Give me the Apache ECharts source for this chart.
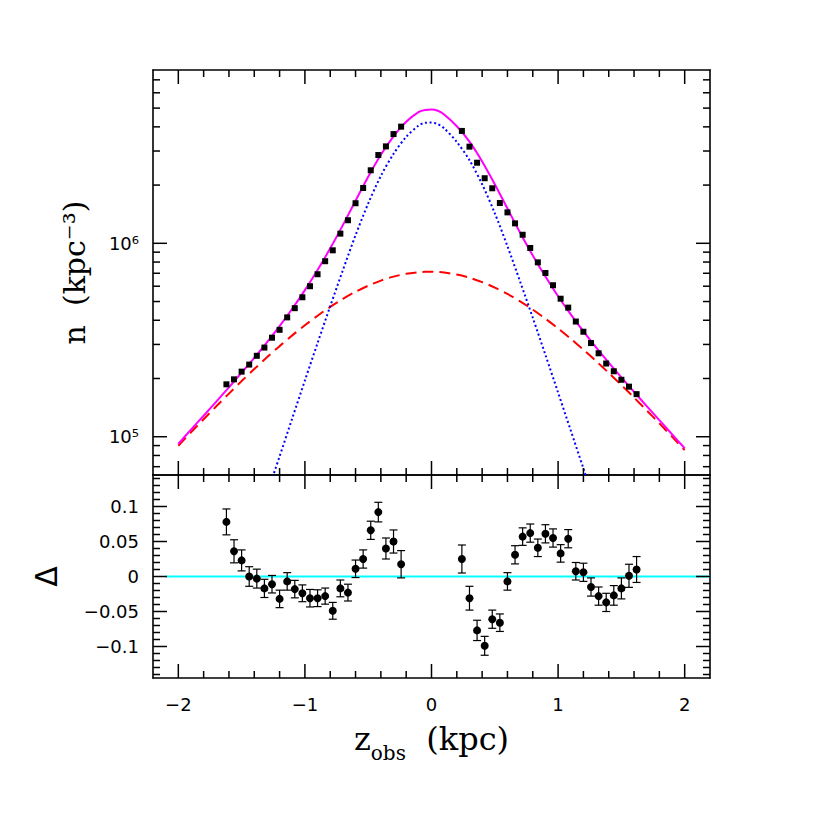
<!DOCTYPE html>
<html><head><meta charset="utf-8">
<script src="https://cdn.jsdelivr.net/npm/echarts@6/dist/echarts.min.js"></script>
<style>html,body{margin:0;padding:0;background:#fff}#c{width:830px;height:830px}</style>
</head><body><div id="c"></div>
<script>
// ---- model curves ----
const curveZ = [-2.0,-1.9,-1.8,-1.7,-1.6,-1.5,-1.4,-1.3,-1.2,-1.1,-1.0,-0.9,-0.8,-0.7,-0.6,-0.5,-0.4,-0.3,-0.2,-0.1,-0.05,0.0,0.05,
                0.1,0.2,0.3,0.4,0.5,0.6,0.7,0.8,0.9,1.0,1.1,1.2,1.3,1.4,1.5,1.6,1.7,1.8,1.9,2.0];
const thinDisk = [2.1e3,3.4e3,5.3e3,8.3e3,1.30e4,2.04e4,3.21e4,5.05e4,7.91e4,1.245e5,1.954e5,3.05e5,4.73e5,7.26e5,1.10e6,1.607e6,2.23e6,2.90e6,3.55e6,4.07e6,4.195e6,4.21e6,4.13e6,
                  3.93e6,3.34e6,2.69e6,2.02e6,1.43e6,9.66e5,6.34e5,4.12e5,2.65e5,1.69e5,1.077e5,6.85e4,4.37e4,2.78e4,1.77e4,1.13e4,7.2e3,4.6e3,2.9e3,1.9e3];
const thickDisk = [8.98e4,1.054e5,1.231e5,1.437e5,1.671e5,1.939e5,2.237e5,2.574e5,2.940e5,3.341e5,3.771e5,4.224e5,4.691e5,5.156e5,5.614e5,6.037e5,6.414e5,6.726e5,6.957e5,7.093e5,7.12e5,7.130e5,7.11e5,
                   7.060e5,6.892e5,6.634e5,6.299e5,5.905e5,5.469e5,5.008e5,4.540e5,4.077e5,3.631e5,3.210e5,2.819e5,2.461e5,2.138e5,1.849e5,1.593e5,1.368e5,1.172e5,1.001e5,8.53e4];
const totalModel = [9.19e4,1.088e5,1.284e5,1.520e5,1.801e5,2.143e5,2.558e5,3.079e5,3.731e5,4.586e5,5.725e5,7.274e5,9.421e5,1.242e6,1.661e6,2.211e6,2.871e6,3.573e6,4.246e6,4.78e6,4.89e6,4.915e6,4.845e6,
                    4.636e6,4.029e6,3.353e6,2.650e6,2.021e6,1.513e6,1.135e6,8.66e5,6.73e5,5.32e5,4.287e5,3.504e5,2.898e5,2.416e5,2.026e5,1.706e5,1.440e5,1.218e5,1.030e5,8.72e4];

// ---- observed bins ----
const obsZ = [-1.62,-1.56,-1.50,-1.44,-1.38,-1.32,-1.26,-1.20,-1.14,-1.08,-1.02,-0.96,-0.90,-0.84,-0.78,-0.72,-0.66,-0.60,-0.54,-0.48,-0.42,-0.36,-0.30,-0.24,
              0.24,0.30,0.36,0.42,0.48,0.54,0.60,0.66,0.72,0.78,0.84,0.90,0.96,1.02,1.08,1.14,1.20,1.26,1.32,1.38,1.44,1.50,1.56,1.62];
const obsDensity = [1.866e5,1.98e5,2.17e5,2.36e5,2.62e5,2.89e5,3.25e5,3.57e5,4.14e5,4.62e5,5.26e5,6.0e5,6.92e5,8.08e5,9.2e5,1.122e6,1.316e6,1.611e6,1.932e6,2.385e6,2.86e6,3.17e6,3.67e6,4.01e6,
                    3.81e6,3.16e6,2.61e6,2.17e6,1.925e6,1.615e6,1.445e6,1.268e6,1.107e6,9.46e5,7.97e5,7.02e5,6.07e5,5.17e5,4.65e5,3.94e5,3.49e5,3.05e5,2.70e5,2.39e5,2.18e5,1.97e5,1.815e5,1.66e5];
const residual = [0.078,0.036,0.023,0.000,-0.003,-0.017,-0.011,-0.032,-0.007,-0.018,-0.024,-0.031,-0.031,-0.028,-0.049,-0.017,-0.023,0.011,0.025,0.066,0.092,0.040,0.050,0.0175,
                  0.025,-0.031,-0.077,-0.099,-0.061,-0.066,-0.007,0.031,0.057,0.062,0.041,0.061,0.055,0.033,0.054,0.0075,0.006,-0.015,-0.028,-0.037,-0.027,-0.017,0.001,0.010];
const residualErr = [0.0185,0.0165,0.015,0.014,0.0135,0.013,0.0125,0.0125,0.0125,0.0125,0.012,0.0125,0.012,0.0115,0.012,0.012,0.012,0.0125,0.013,0.013,0.014,0.015,0.0165,0.0195,
                     0.020,0.017,0.0145,0.0135,0.013,0.0125,0.0125,0.013,0.0125,0.013,0.0125,0.013,0.013,0.0125,0.013,0.0125,0.013,0.013,0.013,0.013,0.014,0.015,0.0165,0.0185];
const zeroLineZ = [-2.1, 2.2];

// ---- tick values ----
const xTickValues = [-2.0,-1.8,-1.6,-1.4,-1.2,-1.0,-0.8,-0.6,-0.4,-0.2,0,0.2,0.4,0.6,0.8,1.0,1.2,1.4,1.6,1.8,2.0];
const logTickValues = [7e4,8e4,9e4,1e5,2e5,3e5,4e5,5e5,6e5,7e5,8e5,9e5,1e6,2e6,3e6,4e6,5e6,6e6,7e6];
const deltaTickValues = [-0.14,-0.13,-0.12,-0.11,-0.10,-0.09,-0.08,-0.07,-0.06,-0.05,-0.04,-0.03,-0.02,-0.01,0,
                         0.01,0.02,0.03,0.04,0.05,0.06,0.07,0.08,0.09,0.10,0.11,0.12,0.13,0.14];

const X_MIN = -2.2, X_MAX = 2.2, N_MIN = 6.34e4, N_MAX = 7.87e6, D_MIN = -0.145, D_MAX = 0.145;

const near = (a, b) => Math.abs(a - b) < 1e-6;
const minus = s => String(s).replace('-', '\u2212');
const sup = {'5':'\u2075','6':'\u2076'};

const frame = {show:true, onZero:false, lineStyle:{color:'#000', width:1.6}};
const tickFont = {color:'#000', fontFamily:'DejaVu Sans', fontSize:18};

function xAx(grid, pos, withLabels) {
  const a = {type:'value', gridIndex:grid, position:pos, min:X_MIN, max:X_MAX, interval:0.2,
    axisLine:frame, axisTick:{show:false}, splitLine:{show:false}, axisLabel:{show:false}};
  if (withLabels) {
    a.axisLabel = Object.assign({show:true, margin:17,
      formatter: v => near(v, Math.round(v)) ? minus(Math.round(v)) : ''}, tickFont);
    a.name = '{m|z}{s|obs}{m|  (kpc)}';
    a.nameLocation = 'middle';
    a.nameGap = 45;
    a.nameTextStyle = {rich:{
      m:{fontFamily:'DejaVu Serif', fontSize:32, color:'#000', lineHeight:36, verticalAlign:'top'},
      s:{fontFamily:'DejaVu Serif', fontSize:20, color:'#000', lineHeight:20, padding:[20,0,0,0], verticalAlign:'top'}
    }};
  }
  return a;
}

function tickData(yMin, yMax, yTicks, isMajorY) {
  const d = [];
  xTickValues.forEach(v => d.push([v, yMin, 0, near(v, Math.round(v)) ? 1 : 0]));
  yTicks.forEach(v => d.push([X_MIN, v, 1, isMajorY(v) ? 1 : 0]));
  return d;
}
function tickSeries(xi, yi, yMin, yMax, data) {
  return {type:'custom', xAxisIndex:xi, yAxisIndex:yi, silent:true, clip:false, z:10,
    encode:{x:0, y:1}, data,
    renderItem(params, api) {
      const kind = api.value(2), len = api.value(3) ? 14 : 7;
      const st = {stroke:'#000', lineWidth:1.5};
      if (kind === 0) {
        const x = api.value(0);
        const b = api.coord([x, yMin]), t = api.coord([x, yMax]);
        return {type:'group', children:[
          {type:'line', shape:{x1:b[0], y1:b[1], x2:b[0], y2:b[1]-len}, style:st},
          {type:'line', shape:{x1:t[0], y1:t[1], x2:t[0], y2:t[1]+len}, style:st}]};
      } else {
        const y = api.value(1);
        const l = api.coord([X_MIN, y]), r = api.coord([X_MAX, y]);
        return {type:'group', children:[
          {type:'line', shape:{x1:l[0], y1:l[1], x2:l[0]+len, y2:l[1]}, style:st},
          {type:'line', shape:{x1:r[0], y1:r[1], x2:r[0]-len, y2:r[1]}, style:st}]};
      }
    }};
}

const zip = (a, b) => a.map((v, i) => [v, b[i]]);

const option = {
  animation:false,
  backgroundColor:'#fff',
  grid:[
    {left:153, top:70, width:557, height:405},
    {left:153, top:475, width:557, height:203}
  ],
  xAxis:[xAx(0,'bottom',false), xAx(0,'top',false), xAx(1,'bottom',true), xAx(1,'top',false)],
  yAxis:[
    {type:'log', logBase:10, gridIndex:0, position:'left', min:N_MIN, max:N_MAX,
     axisLine:frame, axisTick:{show:false}, splitLine:{show:false},
     axisLabel:Object.assign({margin:14, formatter: v => {
        const l = Math.log10(v); const r = Math.round(l);
        return near(l, r) && (r === 5 || r === 6) ? '10' + sup[r] : ''; }}, tickFont),
     name:'n  (kpc\u207B\u00B3)', nameLocation:'middle', nameGap:64,
     nameTextStyle:{fontFamily:'DejaVu Serif', fontSize:30, color:'#000'}},
    {type:'log', logBase:10, gridIndex:0, position:'right', min:N_MIN, max:N_MAX,
     axisLine:frame, axisTick:{show:false}, splitLine:{show:false}, axisLabel:{show:false}},
    {type:'value', gridIndex:1, position:'left', min:D_MIN, max:D_MAX,
     axisLine:frame, axisTick:{show:false}, splitLine:{show:false},
     axisLabel:Object.assign({margin:14, formatter: v => {
        const ok = [-0.1,-0.05,0,0.05,0.1].some(t => near(v, t));
        if (!ok) return '';
        return minus(Math.abs(v) < 1e-9 ? '0' : String(Math.round(v*100)/100)); }}, tickFont),
     name:'\u0394', nameLocation:'middle', nameGap:92,
     nameTextStyle:{fontFamily:'DejaVu Sans', fontSize:30, color:'#000'}},
    {type:'value', gridIndex:1, position:'right', min:D_MIN, max:D_MAX,
     axisLine:frame, axisTick:{show:false}, splitLine:{show:false}, axisLabel:{show:false}}
  ],
  series:[
    {type:'line', xAxisIndex:0, yAxisIndex:0, data:zip(curveZ, thickDisk), showSymbol:false, smooth:0.3,
     lineStyle:{color:'#ff0000', width:2, type:[11,6]}, z:2},
    {type:'line', xAxisIndex:0, yAxisIndex:0, data:zip(curveZ, thinDisk), showSymbol:false, smooth:0.3,
     lineStyle:{color:'#0000ff', width:2, type:[2,2.6]}, z:2},
    {type:'line', xAxisIndex:0, yAxisIndex:0, data:zip(curveZ, totalModel), showSymbol:false, smooth:0.3,
     lineStyle:{color:'#ff00ff', width:2}, z:3},
    {type:'scatter', xAxisIndex:0, yAxisIndex:0, data:zip(obsZ, obsDensity), symbol:'rect', symbolSize:6,
     itemStyle:{color:'#000', opacity:1}, z:4},
    tickSeries(0, 0, N_MIN, N_MAX, tickData(N_MIN, N_MAX, logTickValues, v => near(Math.log10(v), Math.round(Math.log10(v))))),

    {type:'line', xAxisIndex:2, yAxisIndex:2, data:zeroLineZ.map(z => [z, 0]), showSymbol:false,
     lineStyle:{color:'#00ffff', width:2}, z:2},
    {type:'custom', xAxisIndex:2, yAxisIndex:2, encode:{x:0, y:1}, z:3, silent:true,
     data: obsZ.map((z, i) => [z, residual[i], residualErr[i]]),
     renderItem(params, api) {
       const z = api.value(0), v = api.value(1), e = api.value(2);
       const hi = api.coord([z, v + e]), lo = api.coord([z, v - e]);
       const st = {stroke:'#000', lineWidth:1.2}, cw = 4;
       return {type:'group', children:[
         {type:'line', shape:{x1:hi[0], y1:hi[1], x2:lo[0], y2:lo[1]}, style:st},
         {type:'line', shape:{x1:hi[0]-cw, y1:hi[1], x2:hi[0]+cw, y2:hi[1]}, style:st},
         {type:'line', shape:{x1:lo[0]-cw, y1:lo[1], x2:lo[0]+cw, y2:lo[1]}, style:st}]};
     }},
    {type:'scatter', xAxisIndex:2, yAxisIndex:2, data:zip(obsZ, residual), symbol:'circle', symbolSize:8,
     itemStyle:{color:'#000', opacity:1}, z:4},
    tickSeries(2, 2, D_MIN, D_MAX, tickData(D_MIN, D_MAX, deltaTickValues, v => near(v*20, Math.round(v*20))))
  ]
};

const chart = echarts.init(document.getElementById('c'), null, {renderer:'svg'});
chart.setOption(option);
</script>
</body></html>
